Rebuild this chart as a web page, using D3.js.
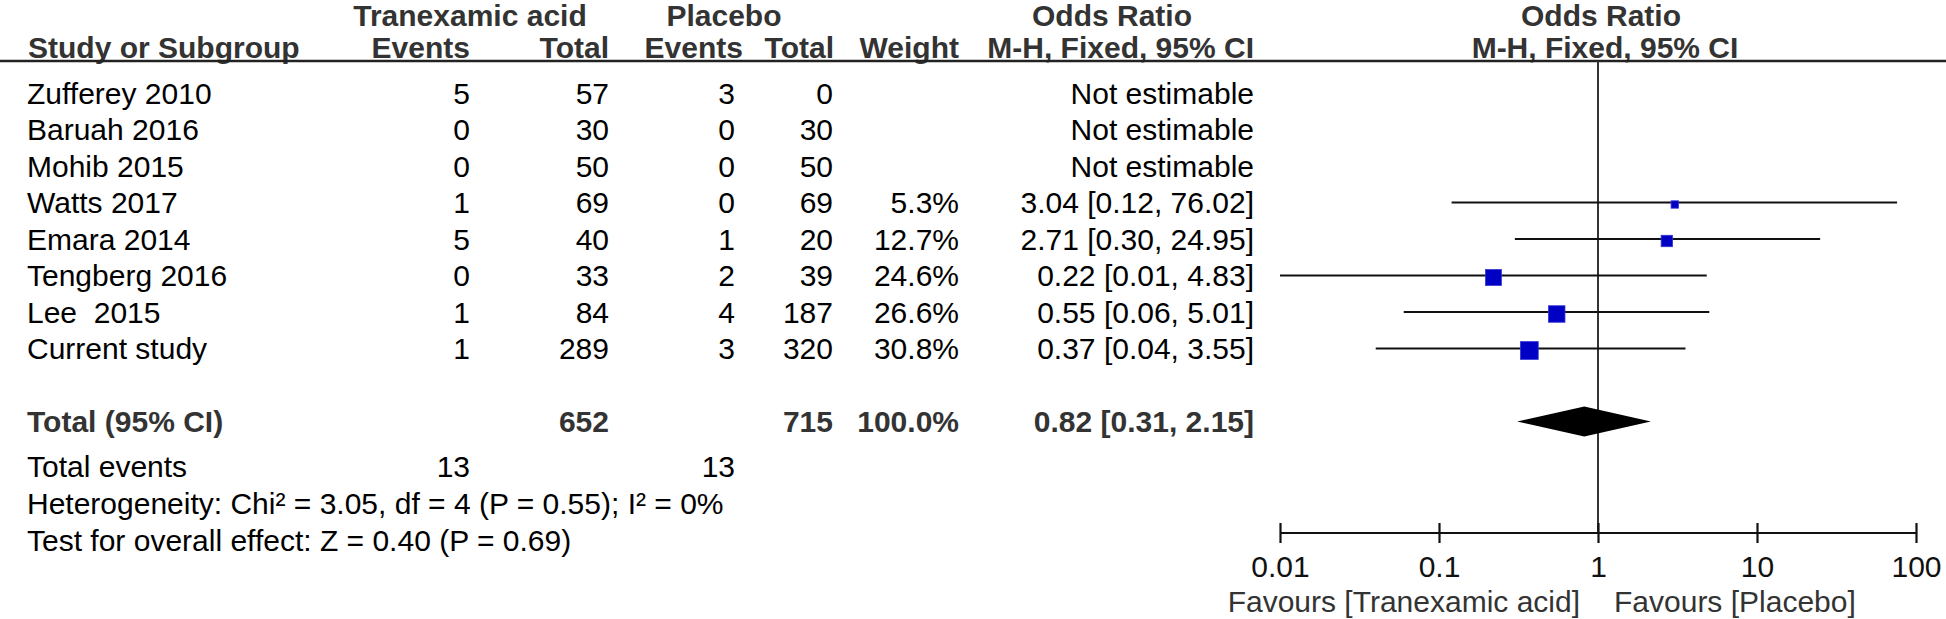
<!DOCTYPE html>
<html>
<head>
<meta charset="utf-8">
<script src="https://cdn.jsdelivr.net/npm/d3@7"></script>
<style>
  body { margin: 0; background: #fff; }
  text { font-family: "Liberation Sans", Arial, sans-serif; white-space: pre; }
</style>
</head>
<body>
<script>
//data
var studies = ["Zufferey 2010", "Baruah 2016", "Mohib 2015", "Watts 2017", "Emara 2014", "Tengberg 2016", "Lee  2015", "Current study"];
var txaEvents = [5, 0, 0, 1, 5, 0, 1, 1];
var txaTotal = [57, 30, 50, 69, 40, 33, 84, 289];
var plaEvents = [3, 0, 0, 0, 1, 2, 4, 3];
var plaTotal = [0, 30, 50, 69, 20, 39, 187, 320];
var weights = [null, null, null, 5.3, 12.7, 24.6, 26.6, 30.8];
var oddsRatio = [null, null, null, 3.04, 2.71, 0.22, 0.55, 0.37];
var ciLow = [null, null, null, 0.12, 0.30, 0.01, 0.06, 0.04];
var ciHigh = [null, null, null, 76.02, 24.95, 4.83, 5.01, 3.55];

var totalOR = [0.82, 0.31, 2.15];
var totals = [652, 715];
var totalEvents = [13, 13];
var axisTicks = [0.01, 0.1, 1, 10, 100];
var footLines = ["Heterogeneity: Chi\u00b2 = 3.05, df = 4 (P = 0.55); I\u00b2 = 0%",
                 "Test for overall effect: Z = 0.40 (P = 0.69)"];

var width = 1946, height = 619;
var fs = 30;

var svg = d3.select("body").append("svg")
    .attr("width", width)
    .attr("height", height);

//row positions (text centres)
var rowStep = 36.5;
var firstRow = 93;
var y = function(i){ return firstRow + i * rowStep; };
var footY = [466, 503, 540];
var base = function(cy){ return cy + fs * 0.35; };

var x = d3.scaleLog()
    .domain([0.01, 100])
    .range([1280, 1916]);

//column right edges
var col = { txaE: 470, txaT: 609, plaE: 735, plaT: 833, wt: 959, or: 1254 };
var fmt2 = d3.format(".2f");

function label(t, xx, cy, anchor, bold, fill){
    svg.append("text")
        .attr("x", xx)
        .attr("y", base(cy))
        .attr("text-anchor", anchor)
        .attr("font-size", fs)
        .attr("font-weight", bold ? "bold" : "normal")
        .attr("fill", fill || "#000")
        .text(t);
}

//headers
var hd = "#333";
label("Tranexamic acid", 470, 15, "middle", true, hd);
label("Placebo", 724, 15, "middle", true, hd);
label("Odds Ratio", 1112, 15, "middle", true, hd);
label("Odds Ratio", 1601, 15, "middle", true, hd);
var h2 = 47;
label("Study or Subgroup", 28, h2, "start", true, hd);
label("Events", col.txaE, h2, "end", true, hd);
label("Total", col.txaT, h2, "end", true, hd);
label("Events", 743, h2, "end", true, hd);
label("Total", 834, h2, "end", true, hd);
label("Weight", col.wt, h2, "end", true, hd);
label("M-H, Fixed, 95% CI", col.or, h2, "end", true, hd);
label("M-H, Fixed, 95% CI", 1605, h2, "middle", true, hd);

var ulY = 61;
svg.append("line")
    .attr("x1", 0).attr("x2", width)
    .attr("y1", ulY).attr("y2", ulY)
    .attr("stroke", "#222")
    .attr("stroke-width", 2.5);

//study rows
studies.forEach(function(s, i){
    var cy = y(i);
    label(s, 27, cy, "start");
    label(txaEvents[i], col.txaE, cy, "end");
    label(txaTotal[i], col.txaT, cy, "end");
    label(plaEvents[i], col.plaE, cy, "end");
    label(plaTotal[i], col.plaT, cy, "end");
    if (weights[i] === null) {
        label("Not estimable", col.or, cy, "end");
    } else {
        label(weights[i].toFixed(1) + "%", col.wt, cy, "end");
        label(fmt2(oddsRatio[i]) + " [" + fmt2(ciLow[i]) + ", " + fmt2(ciHigh[i]) + "]", col.or, cy, "end");
    }
});

var totY = y(9);
label("Total (95% CI)", 27, totY, "start", true, hd);
label(totals[0], col.txaT, totY, "end", true, hd);
label(totals[1], col.plaT, totY, "end", true, hd);
label("100.0%", col.wt, totY, "end", true, hd);
label(fmt2(totalOR[0]) + " [" + fmt2(totalOR[1]) + ", " + fmt2(totalOR[2]) + "]", col.or, totY, "end", true, hd);

label("Total events", 27, footY[0], "start");
label(totalEvents[0], col.txaE, footY[0], "end");
label(totalEvents[1], col.plaE, footY[0], "end");
label(footLines[0], 27, footY[1], "start");
label(footLines[1], 27, footY[2], "start");

//forest plot
var axisY = 533;
svg.append("line")
    .attr("x1", x(1)).attr("x2", x(1))
    .attr("y1", ulY).attr("y2", axisY)
    .attr("stroke", "#333")
    .attr("stroke-width", 2);

var est = d3.range(studies.length).filter(function(i){ return weights[i] !== null; });

svg.selectAll(".ci")
    .data(est)
    .enter().append("line")
    .attr("class", "ci")
    .attr("x1", function(i){ return x(ciLow[i]); })
    .attr("x2", function(i){ return x(ciHigh[i]); })
    .attr("y1", function(i){ return y(i); })
    .attr("y2", function(i){ return y(i); })
    .attr("stroke", "#111")
    .attr("stroke-width", 2.2);

var side = function(w){ return 3.2 * Math.sqrt(w); };
svg.selectAll(".box")
    .data(est)
    .enter().append("rect")
    .attr("class", "box")
    .attr("x", function(i){ return x(oddsRatio[i]) - side(weights[i]) / 2; })
    .attr("y", function(i){ return y(i) + 2 - side(weights[i]) / 2; })
    .attr("width", function(i){ return side(weights[i]); })
    .attr("height", function(i){ return side(weights[i]); })
    .attr("fill", "#0000c4")
    .attr("stroke", "#3333d8")
    .attr("stroke-width", 0.8);

//diamond for pooled estimate
var dh = 15;
svg.append("path")
    .attr("d", "M" + x(totalOR[1]) + "," + totY +
               "L" + x(totalOR[0]) + "," + (totY - dh) +
               "L" + x(totalOR[2]) + "," + totY +
               "L" + x(totalOR[0]) + "," + (totY + dh) + "Z")
    .attr("fill", "#000");

var axis = d3.axisBottom(x)
    .tickValues(axisTicks)
    .tickFormat(function(d){ return d; })
    .tickSize(9)
    .tickPadding(14);

var ax = svg.append("g")
    .attr("transform", "translate(0," + axisY + ")")
    .call(axis);
ax.select(".domain")
    .attr("d", "M" + x(0.01) + ",0H" + x(100))
    .attr("stroke", "#111")
    .attr("stroke-width", 2.2);
ax.selectAll(".tick line")
    .attr("y1", -10).attr("y2", 10)
    .attr("stroke", "#111")
    .attr("stroke-width", 2.2);
ax.selectAll(".tick text")
    .attr("font-size", fs)
    .attr("font-family", "Liberation Sans, Arial, sans-serif")
    .attr("fill", "#111");

label("Favours [Tranexamic acid]", 1580, 601, "end", false, "#333");
label("Favours [Placebo]", 1614, 601, "start", false, "#333");
</script>
</body>
</html>
